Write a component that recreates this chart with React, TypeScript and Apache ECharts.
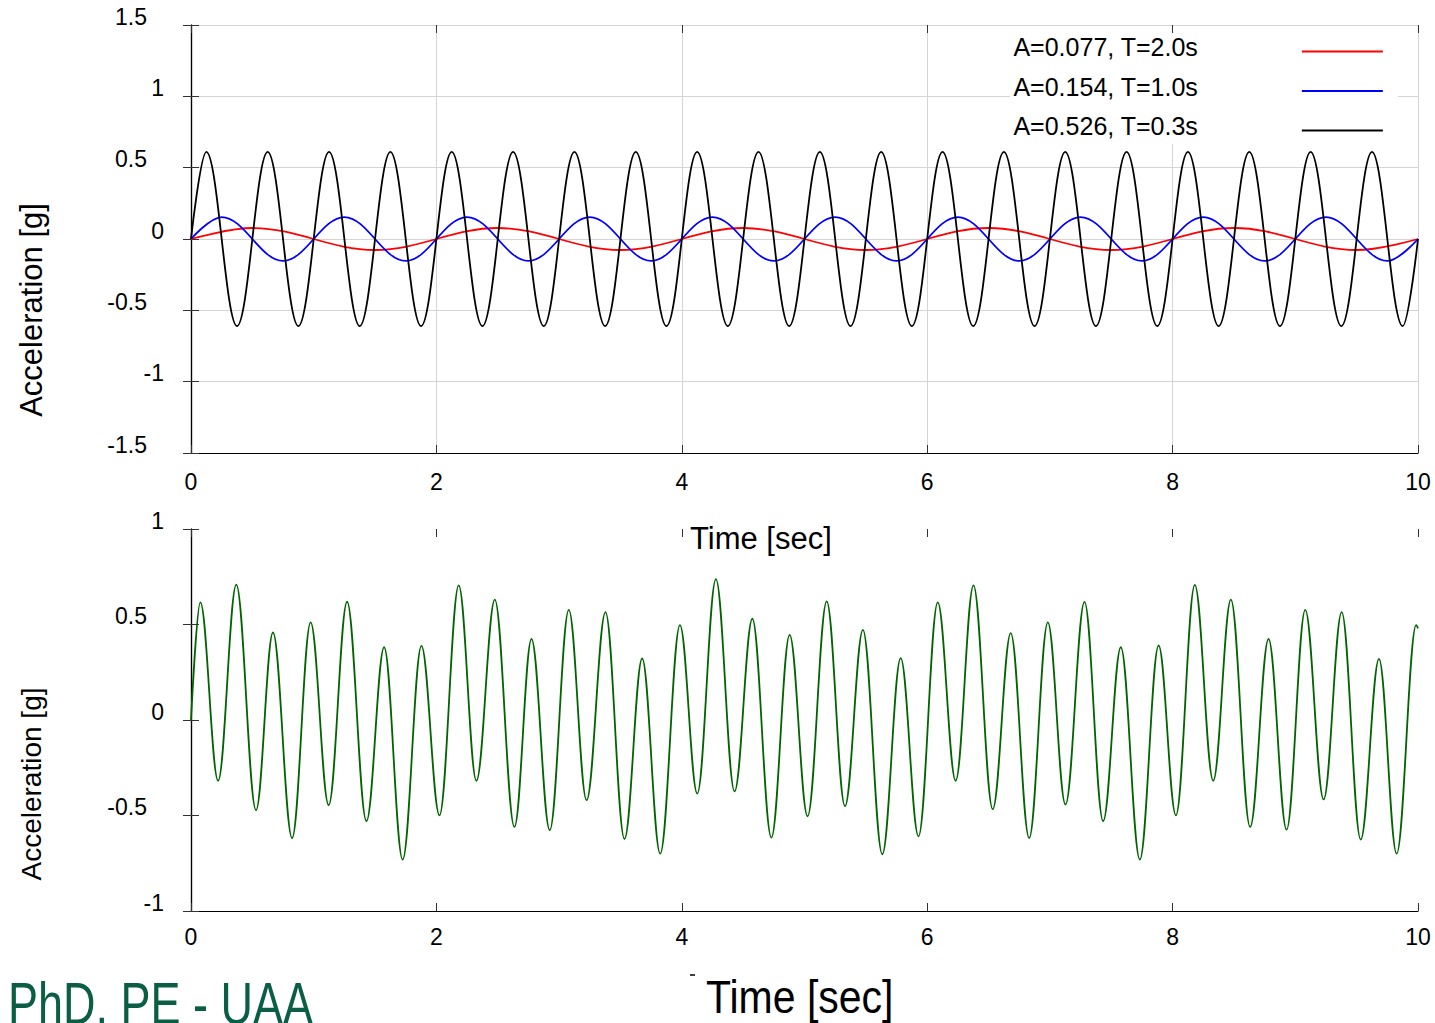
import React, { useEffect, useRef } from "react";
import * as echarts from "echarts";

// ---------------- data ----------------
const redName = "A=0.077, T=2.0s";
const blueName = "A=0.154, T=1.0s";
const blackName = "A=0.526, T=0.3s";

// extrema of each curve: time [s] and acceleration [g]
const redT = [0, 0.5, 1.5, 2.5, 3.5, 4.5, 5.5, 6.5, 7.5, 8.5, 9.5, 10];
const redV = [0, 0.077, -0.077, 0.077, -0.077, 0.077, -0.077, 0.077, -0.077, 0.077, -0.077, 0];

const blueT = [0, 0.25, 0.75, 1.25, 1.75, 2.25, 2.75, 3.25, 3.75, 4.25, 4.75, 5.25, 5.75, 6.25, 6.75, 7.25, 7.75, 8.25, 8.75, 9.25, 9.75, 10];
const blueV = [0, 0.154, -0.154, 0.154, -0.154, 0.154, -0.154, 0.154, -0.154, 0.154, -0.154, 0.154, -0.154, 0.154, -0.154, 0.154, -0.154, 0.154, -0.154, 0.154, -0.154, 0];

const blackT = [0, 0.125, 0.375, 0.625, 0.875, 1.125, 1.375, 1.625, 1.875, 2.125, 2.375, 2.625, 2.875, 3.125, 3.375, 3.625, 3.875, 4.125, 4.375, 4.625, 4.875, 5.125, 5.375, 5.625, 5.875, 6.125, 6.375, 6.625, 6.875, 7.125, 7.375, 7.625, 7.875, 8.125, 8.375, 8.625, 8.875, 9.125, 9.375, 9.625, 9.875, 10];
const blackV = [0, 0.61, -0.61, 0.61, -0.61, 0.61, -0.61, 0.61, -0.61, 0.61, -0.61, 0.61, -0.61, 0.61, -0.61, 0.61, -0.61, 0.61, -0.61, 0.61, -0.61, 0.61, -0.61, 0.61, -0.61, 0.61, -0.61, 0.61, -0.61, 0.61, -0.61, 0.61, -0.61, 0.61, -0.61, 0.61, -0.61, 0.61, -0.61, 0.61, -0.61, 0];

const greenT = [0, 0.076, 0.221, 0.369, 0.53, 0.668, 0.824, 0.975, 1.122, 1.272, 1.43, 1.574, 1.725, 1.878, 2.025, 2.182, 2.326, 2.476, 2.636, 2.775, 2.924, 3.079, 3.224, 3.378, 3.533, 3.677, 3.824, 3.985, 4.126, 4.278, 4.43, 4.575, 4.73, 4.879, 5.025, 5.181, 5.33, 5.476, 5.634, 5.784, 5.929, 6.086, 6.232, 6.377, 6.534, 6.681, 6.831, 6.983, 7.127, 7.282, 7.434, 7.578, 7.733, 7.886, 8.027, 8.181, 8.331, 8.475, 8.632, 8.782, 8.929, 9.081, 9.231, 9.378, 9.533, 9.682, 9.826, 9.985, 10];
const greenV = [0, 0.616, -0.318, 0.709, -0.472, 0.458, -0.618, 0.511, -0.446, 0.619, -0.53, 0.381, -0.731, 0.388, -0.499, 0.705, -0.318, 0.63, -0.56, 0.424, -0.577, 0.577, -0.42, 0.565, -0.623, 0.322, -0.7, 0.497, -0.385, 0.738, -0.374, 0.53, -0.616, 0.446, -0.504, 0.621, -0.451, 0.472, -0.703, 0.324, -0.609, 0.616, -0.318, 0.705, -0.467, 0.455, -0.618, 0.511, -0.443, 0.618, -0.53, 0.381, -0.731, 0.39, -0.499, 0.707, -0.318, 0.63, -0.56, 0.424, -0.574, 0.577, -0.416, 0.565, -0.626, 0.32, -0.7, 0.497, 0.48];

const yLabel = "Acceleration [g]";
const xLabel = "Time [sec]";
const footer = "PhD, PE - UAA";

// ---------------- styling ----------------
const FONT = "'Liberation Sans', Arial, sans-serif";
const SMOOTH = 0.364;
// legend key: a 2px bar sitting in the lower part of an 11px box (tiny invisible speck keeps the box)
const LEGEND_ICON = "path://M0,0 L0.01,0 L0.01,0.01 Z M0,9 L81,9 L81,11 L0,11 Z";

const zip = (t: number[], v: number[]) => t.map((x, i) => [x, v[i]]);

const yFormatter = (v: number) => (Number.isInteger(v) ? String(v) : `{d|${v}}`);

function makeYAxisLeft(gridIndex: number, min: number, max: number, grid: boolean) {
  return {
    type: "value",
    gridIndex,
    position: "left",
    min,
    max,
    interval: 0.5,
    axisLine: { show: true, lineStyle: { color: "#000", width: 1.2 } },
    axisTick: { show: true, inside: true, length: 8, lineStyle: { color: "#333", width: 1 } },
    axisLabel: {
      show: true,
      formatter: yFormatter,
      margin: 27,
      fontSize: 23,
      fontFamily: FONT,
      color: "#000",
      verticalAlign: "bottom",
      lineHeight: 17,
      rich: { d: { padding: [0, 17, 0, 0], fontSize: 23, fontFamily: FONT, color: "#000", lineHeight: 17 } },
    },
    splitLine: { show: grid, lineStyle: { color: "#d4d4d4", width: 1 } },
  };
}

function makeYAxisRight(gridIndex: number, min: number, max: number) {
  return {
    type: "value",
    gridIndex,
    position: "right",
    min,
    max,
    interval: 0.5,
    axisLine: { show: true, lineStyle: { color: "#000", width: 1.2 } },
    axisTick: { show: true, inside: true, length: 8, lineStyle: { color: "#333", width: 1 } },
    axisLabel: { show: false },
    splitLine: { show: false },
  };
}

function makeXAxisBottom(gridIndex: number, grid: boolean, margin: number) {
  return {
    type: "value",
    gridIndex,
    position: "bottom",
    min: 0,
    max: 10,
    interval: 2,
    axisLine: { show: true, onZero: false, lineStyle: { color: "#000", width: 1.2 } },
    axisTick: { show: true, inside: true, length: 8, lineStyle: { color: "#333", width: 1 } },
    axisLabel: { show: true, margin, fontSize: 23, fontFamily: FONT, color: "#000", lineHeight: 23 },
    splitLine: { show: grid, lineStyle: { color: "#d4d4d4", width: 1 } },
  };
}

function makeXAxisTop(gridIndex: number) {
  return {
    type: "value",
    gridIndex,
    position: "top",
    min: 0,
    max: 10,
    interval: 2,
    axisLine: { show: false, onZero: false },
    axisTick: { show: true, inside: true, length: 8, lineStyle: { color: "#333", width: 1 } },
    axisLabel: { show: false },
    splitLine: { show: false },
  };
}

function lineSeries(name: string, data: number[][], color: string, xi: number, yi: number) {
  return {
    name,
    type: "line",
    xAxisIndex: xi,
    yAxisIndex: yi,
    data,
    smooth: SMOOTH,
    smoothMonotone: "x",
    symbol: "none",
    showSymbol: false,
    color,
    lineStyle: { color, width: 1.8 },
    silent: true,
  };
}

export default function App() {
  const ref = useRef<HTMLDivElement>(null);

  useEffect(() => {
    if (!ref.current) return;
    const chart = echarts.init(ref.current, undefined, { renderer: "svg" });
    const option: any = {
      animation: false,
      backgroundColor: "#fff",
      textStyle: { fontFamily: FONT },
      grid: [
        { left: 191, top: 25, width: 1227, height: 428 },
        { left: 191, top: 529, width: 1227, height: 382 },
      ],
      xAxis: [makeXAxisBottom(0, true, 17), makeXAxisTop(0), makeXAxisBottom(1, false, 14), makeXAxisTop(1)],
      yAxis: [makeYAxisLeft(0, -1.5, 1.5, true), makeYAxisRight(0, -1.5, 1.5), makeYAxisLeft(1, -1, 1, false), makeYAxisRight(1, -1, 1)],
      legend: {
        data: [redName, blueName, blackName],
        orient: "vertical",
        left: 1010,
        top: 33,
        align: "right",
        icon: LEGEND_ICON,
        itemWidth: 81,
        itemHeight: 11,
        itemGap: 11.5,
        padding: [0, 15, 4, 3],
        backgroundColor: "#fff",
        selectedMode: false,
        textStyle: { fontSize: 25, fontFamily: FONT, color: "#000", lineHeight: 28, padding: [0, 99, 0, 0] },
      },
      series: [
        lineSeries(redName, zip(redT, redV), "#ff0000", 0, 0),
        lineSeries(blueName, zip(blueT, blueV), "#0000ff", 0, 0),
        lineSeries(blackName, zip(blackT, blackV), "#000000", 0, 0),
        lineSeries("sum", zip(greenT, greenV), "#006400", 2, 2),
      ],
      graphic: [
        {
          type: "text", x: 31, y: 310, rotation: Math.PI / 2,
          style: { text: yLabel, fontSize: 31, fontFamily: FONT, fill: "#000", align: "center", verticalAlign: "middle" },
        },
        {
          type: "text", x: 31, y: 784, rotation: Math.PI / 2,
          style: { text: yLabel, fontSize: 28, fontFamily: FONT, fill: "#000", align: "center", verticalAlign: "middle" },
        },
        {
          type: "text", x: 690, y: 538,
          style: { text: xLabel, fontSize: 31, fontFamily: FONT, fill: "#000", align: "left", verticalAlign: "middle" },
        },
        {
          type: "text", x: 706, y: 997, scaleY: 1.12,
          style: { text: xLabel, fontSize: 41, fontFamily: FONT, fill: "#000", align: "left", verticalAlign: "middle" },
        },
        {
          type: "text", x: 8, y: 1003, scaleY: 1.33,
          style: { text: footer, fontSize: 45, fontFamily: FONT, fill: "#0a5e44", align: "left", verticalAlign: "middle" },
        },
        {
          type: "line", shape: { x1: 690, y1: 975, x2: 695, y2: 975 },
          style: { stroke: "#000", lineWidth: 1.5 },
        },
      ],
    };
    chart.setOption(option);
    return () => chart.dispose();
  }, []);

  return (
    <div
      ref={ref}
      style={{ position: "absolute", left: 0, top: 0, width: 1435, height: 1023, background: "#fff" }}
    />
  );
}
